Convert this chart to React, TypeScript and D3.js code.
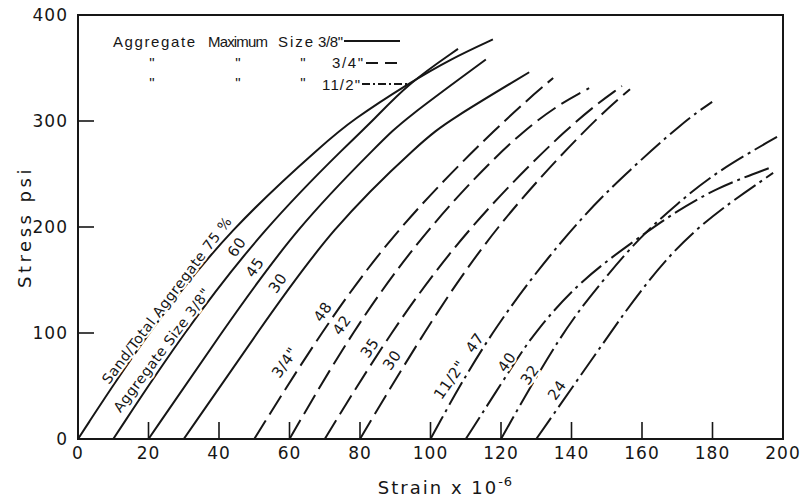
import React from "react";
import * as d3 from "d3";

const W = 806;
const H = 500;
const margin = { left: 78, right: 23, top: 15, bottom: 61 };

const xTicks = [0, 20, 40, 60, 80, 100, 120, 140, 160, 180, 200];
const yTicks = [0, 100, 200, 300, 400];

// strain (x 10^-6), stress (psi)
// aggregate max size 3/8" (solid)
const agg38_75 = [[0, 0], [19.6, 100], [43.5, 200], [70.9, 282], [77.5, 300], [93.5, 335], [106, 359], [117.7, 377]];
const agg38_60 = [[10, 0], [29.8, 100], [53, 200], [77.7, 282], [83.6, 300], [93.5, 335], [107.8, 368]];
const agg38_45 = [[20, 0], [40.6, 100], [62, 200], [86.5, 282], [92, 300], [115.7, 358]];
const agg38_30 = [[30, 0], [50.8, 100], [72, 200], [97.9, 282], [105, 300], [128, 346]];

// 3/4" (dashed)
const agg34_48 = [[50, 0], [68.7, 100], [90.5, 200], [120.5, 300], [134.8, 340.6]];
const agg34_42 = [[60, 0], [77.4, 100], [99, 200], [128, 300], [145, 331]];
const agg34_35 = [[70, 0], [88.4, 100], [110.5, 200], [140.5, 300], [154.3, 333]];
const agg34_30 = [[80, 0], [97.9, 100], [118, 200], [146, 300], [156.6, 330]];

// 1 1/2" (dash-dot)
const agg112_47 = [[100, 0], [116.5, 100], [140, 200], [155.2, 250], [172, 300], [179.9, 318]];
const agg112_40 = [[110, 0], [124, 72.6], [129.4, 100], [142.5, 150], [159.4, 190.6], [168, 211], [181, 237], [196.9, 256.6]];
const agg112_32 = [[120, 0], [137, 100], [149, 150], [159.4, 190.6], [170, 222], [181, 252], [198.3, 285]];
const agg112_24 = [[130, 0], [151, 100], [159, 137.7], [173.6, 197], [197.2, 251]];

const solid = "none";
const dashed = "22,7";
const dashDot = "26,5,3,5";

const curves = [
  { pts: agg38_75, dash: solid },
  { pts: agg38_60, dash: solid },
  { pts: agg38_45, dash: solid },
  { pts: agg38_30, dash: solid },
  { pts: agg34_48, dash: dashed },
  { pts: agg34_42, dash: dashed },
  { pts: agg34_35, dash: dashed },
  { pts: agg34_30, dash: dashed },
  { pts: agg112_47, dash: dashDot },
  { pts: agg112_40, dash: dashDot },
  { pts: agg112_32, dash: dashDot },
  { pts: agg112_24, dash: dashDot },
];

// curve labels: text, strain, stress (anchor)
const labelText = ["Sand/Total Aggregate 75 %", "Aggregate Size 3/8\"", "60", "45", "30",
  "3/4\"", "48", "42", "35", "30", "11/2\"", "47", "40", "32", "24"];
const labelStrain = [25.2, 23.8, 45.1, 50.2, 56.7, 58.7, 69.5, 74.9, 82.8, 89.1, 105.5, 112.6, 121.7, 128.2, 135.9];
const labelStress = [131, 84, 181, 162, 147, 72, 120, 107.5, 86, 74.5, 55.7, 90.6, 72.6, 60.4, 46.2];

// legend words
const legendWords = ["Aggregate", "Maximum", "Size", "3/8\""];
const legendSizes = ["3/4\"", "11/2\""];

const ink = "#161616";
const font = "'DejaVu Sans', 'Liberation Sans', sans-serif";
const legendFont = "'Liberation Sans', Arial, sans-serif";

export default function App() {
  const x = d3.scaleLinear().domain([0, 200]).range([margin.left, W - margin.right]);
  const y = d3.scaleLinear().domain([0, 400]).range([H - margin.bottom, margin.top]);

  const line = d3
    .line<number[]>()
    .x((d) => x(d[0]))
    .y((d) => y(d[1]))
    .curve(d3.curveBasis);

  const x0 = x(0), x1 = x(200), y0 = y(0), y1 = y(400);

  // legend word placement (px)
  const wordX = [113, 208, 278, 318];
  const wordLen = [82, 60, 35, 25];

  return (
    <svg
      width={W}
      height={H}
      style={{ position: "absolute", left: 0, top: 0, background: "#fff" }}
      fontFamily={font}
    >
      <rect width={W} height={H} fill="#fff" />

      {/* curves */}
      {curves.map((c, i) => (
        <path
          key={i}
          d={line(c.pts) || ""}
          fill="none"
          stroke={ink}
          strokeWidth={2}
          strokeDasharray={c.dash}
        />
      ))}

      {/* curve labels */}
      {labelText.map((t, i) => (
        <text
          key={i}
          transform={`translate(${x(labelStrain[i])},${y(labelStress[i])}) rotate(${i < 2 ? -53 : -55})`}
          textAnchor="middle"
          dominantBaseline="central"
          fontSize={i < 2 ? 14 : 15}
          letterSpacing={i < 2 ? 0.6 : 0.5}
          fill={ink}
          stroke="#fff"
          strokeWidth={4}
          paintOrder="stroke"
        >
          {t}
        </text>
      ))}

      {/* frame */}
      <rect x={x0} y={y1} width={x1 - x0} height={y0 - y1} fill="none" stroke={ink} strokeWidth={2} />

      {/* inward ticks */}
      {xTicks.filter((v) => v > 0 && v < 200).map((v) => (
        <line key={"xt" + v} x1={x(v)} x2={x(v)} y1={y0} y2={y0 - 17} stroke={ink} strokeWidth={1.6} />
      ))}
      {yTicks.filter((v) => v > 0 && v < 400).map((v) => (
        <line key={"yt" + v} x1={x0} x2={x0 + 16} y1={y(v)} y2={y(v)} stroke={ink} strokeWidth={1.6} />
      ))}

      {/* tick labels */}
      {xTicks.map((v) => (
        <text key={"xl" + v} x={x(v)} y={y0 + 20} textAnchor="middle" fontSize={17} letterSpacing={1} fill={ink}>
          {v}
        </text>
      ))}
      {yTicks.map((v) => (
        <text key={"yl" + v} x={x0 - 10} y={y(v)} textAnchor="end" dominantBaseline="central" fontSize={17} letterSpacing={1} fill={ink}>
          {v}
        </text>
      ))}

      {/* axis titles */}
      <text
        transform={`translate(24,${(y0 + y1) / 2}) rotate(-90)`}
        textAnchor="middle"
        dominantBaseline="central"
        fontSize={18}
        letterSpacing={3.5}
        fill={ink}
      >
        Stress psi
      </text>
      <text x={(x0 + x1) / 2 + 15} y={494} textAnchor="middle" fontSize={18} letterSpacing={2} fill={ink}>
        Strain x 10
        <tspan dy={-8} fontSize={13} letterSpacing={1}>-6</tspan>
      </text>

      {/* legend */}
      <g fontSize={15} fill={ink} fontFamily={legendFont}>
        {legendWords.map((w, i) => (
          <text key={w} x={wordX[i]} y={47} textLength={wordLen[i]} lengthAdjust="spacing">
            {w}
          </text>
        ))}
        <line x1={344} x2={400} y1={41} y2={41} stroke={ink} strokeWidth={2} />

        {[68, 88].map((yy) =>
          [152, 238, 303].map((xx) => (
            <text key={yy + "-" + xx} x={xx} y={yy} textAnchor="middle">"</text>
          ))
        )}
        <text x={332} y={68} textLength={31} lengthAdjust="spacing">{legendSizes[0]}</text>
        <line x1={366} x2={400} y1={63} y2={63} stroke={ink} strokeWidth={2} strokeDasharray="12,7" />

        <text x={322} y={90} textLength={38} lengthAdjust="spacing">{legendSizes[1]}</text>
        <line x1={362} x2={408} y1={84} y2={84} stroke={ink} strokeWidth={2} strokeDasharray="8,3,2,3" />
      </g>
    </svg>
  );
}
